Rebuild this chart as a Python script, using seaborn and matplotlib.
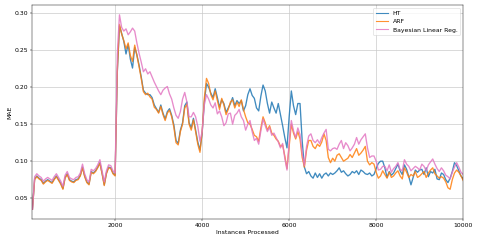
import numpy as np
import pandas as pd
import matplotlib
matplotlib.use("Agg")
import matplotlib.pyplot as plt
import seaborn as sns

# instances processed (every 50 instances)
instances = np.arange(100, 10001, 50)

ht = [
    0.035, 0.076, 0.080, 0.077, 0.075, 0.070, 0.073, 0.075, 0.073, 0.071,
    0.076, 0.080, 0.075, 0.070, 0.063, 0.078, 0.083, 0.075, 0.073, 0.072,
    0.075, 0.076, 0.081, 0.092, 0.080, 0.072, 0.069, 0.086, 0.084, 0.087,
    0.092, 0.098, 0.084, 0.068, 0.084, 0.092, 0.091, 0.084, 0.081, 0.220,
    0.283, 0.273, 0.262, 0.245, 0.258, 0.238, 0.226, 0.254, 0.244, 0.230,
    0.214, 0.196, 0.192, 0.190, 0.190, 0.186, 0.176, 0.171, 0.166, 0.176,
    0.165, 0.157, 0.167, 0.171, 0.162, 0.149, 0.128, 0.124, 0.142, 0.152,
    0.175, 0.180, 0.152, 0.145, 0.158, 0.142, 0.126, 0.115, 0.138, 0.180,
    0.205, 0.200, 0.192, 0.186, 0.198, 0.186, 0.173, 0.183, 0.178, 0.166,
    0.172, 0.178, 0.186, 0.175, 0.182, 0.178, 0.182, 0.168, 0.175, 0.190,
    0.198, 0.189, 0.185, 0.172, 0.168, 0.188, 0.203, 0.195, 0.178, 0.165,
    0.180, 0.172, 0.165, 0.178, 0.163, 0.148, 0.132, 0.118, 0.160, 0.195,
    0.175, 0.163, 0.178, 0.178, 0.127, 0.092, 0.083, 0.086, 0.080, 0.077,
    0.084, 0.078, 0.083, 0.077, 0.082, 0.084, 0.080, 0.084, 0.082, 0.084,
    0.087, 0.091, 0.085, 0.087, 0.083, 0.080, 0.082, 0.086, 0.084, 0.087,
    0.082, 0.088, 0.086, 0.083, 0.082, 0.084, 0.080, 0.082, 0.090, 0.097,
    0.100, 0.100, 0.091, 0.078, 0.086, 0.081, 0.084, 0.090, 0.096, 0.087,
    0.082, 0.095, 0.089, 0.079, 0.068, 0.078, 0.088, 0.085, 0.088, 0.089,
    0.082, 0.091, 0.079, 0.086, 0.084, 0.089, 0.076, 0.075, 0.084, 0.082,
    0.075, 0.071, 0.077, 0.086, 0.098, 0.094, 0.087, 0.080, 0.076,
]

arf = [
    0.035, 0.075, 0.079, 0.076, 0.074, 0.069, 0.072, 0.074, 0.072, 0.070,
    0.075, 0.079, 0.074, 0.069, 0.062, 0.077, 0.082, 0.074, 0.072, 0.071,
    0.074, 0.075, 0.080, 0.091, 0.079, 0.071, 0.068, 0.085, 0.083, 0.086,
    0.091, 0.097, 0.083, 0.067, 0.083, 0.091, 0.090, 0.083, 0.080, 0.222,
    0.285, 0.272, 0.263, 0.252, 0.260, 0.243, 0.235, 0.257, 0.243, 0.228,
    0.212, 0.194, 0.190, 0.192, 0.187, 0.184, 0.173, 0.170, 0.165, 0.174,
    0.163, 0.155, 0.165, 0.169, 0.160, 0.146, 0.125, 0.122, 0.140, 0.150,
    0.172, 0.177, 0.150, 0.142, 0.156, 0.140, 0.123, 0.112, 0.140, 0.185,
    0.212, 0.205, 0.190, 0.183, 0.195, 0.182, 0.170, 0.185, 0.176, 0.163,
    0.170, 0.180, 0.183, 0.172, 0.180, 0.174, 0.183, 0.170, 0.160, 0.152,
    0.150, 0.143, 0.135, 0.133, 0.127, 0.145, 0.160, 0.152, 0.142, 0.148,
    0.138, 0.135, 0.130, 0.127, 0.120, 0.122, 0.107, 0.090, 0.120, 0.150,
    0.138, 0.130, 0.140, 0.130, 0.105, 0.092, 0.115, 0.128, 0.128, 0.120,
    0.117, 0.123, 0.120, 0.126, 0.137, 0.128, 0.105, 0.098, 0.104, 0.100,
    0.108, 0.110, 0.105, 0.100, 0.102, 0.104, 0.109, 0.105, 0.111, 0.117,
    0.108, 0.111, 0.115, 0.120, 0.100, 0.095, 0.098, 0.096, 0.085, 0.077,
    0.080, 0.087, 0.082, 0.077, 0.085, 0.078, 0.080, 0.084, 0.087, 0.080,
    0.076, 0.091, 0.085, 0.078, 0.082, 0.080, 0.086, 0.078, 0.080, 0.083,
    0.086, 0.078, 0.084, 0.088, 0.091, 0.083, 0.080, 0.077, 0.079, 0.077,
    0.072, 0.064, 0.062, 0.075, 0.084, 0.088, 0.085, 0.080, 0.074,
]

blr = [
    0.035, 0.079, 0.083, 0.080, 0.078, 0.073, 0.076, 0.078, 0.076, 0.074,
    0.079, 0.083, 0.078, 0.073, 0.066, 0.081, 0.086, 0.078, 0.076, 0.075,
    0.078, 0.079, 0.084, 0.096, 0.083, 0.075, 0.072, 0.089, 0.087, 0.090,
    0.095, 0.102, 0.087, 0.072, 0.087, 0.095, 0.094, 0.087, 0.084, 0.245,
    0.298, 0.281, 0.276, 0.279, 0.271, 0.275, 0.280, 0.276, 0.260, 0.246,
    0.234, 0.221, 0.225, 0.218, 0.221, 0.214, 0.207, 0.201, 0.195, 0.190,
    0.196, 0.199, 0.201, 0.191, 0.184, 0.172, 0.162, 0.158, 0.167, 0.184,
    0.193, 0.180, 0.160, 0.160, 0.166, 0.160, 0.147, 0.127, 0.140, 0.176,
    0.190, 0.184, 0.176, 0.172, 0.179, 0.164, 0.168, 0.160, 0.148, 0.152,
    0.164, 0.165, 0.150, 0.162, 0.165, 0.170, 0.160, 0.155, 0.142, 0.150,
    0.155, 0.140, 0.128, 0.131, 0.123, 0.141, 0.157, 0.148, 0.140, 0.146,
    0.135, 0.138, 0.132, 0.126, 0.118, 0.124, 0.104, 0.088, 0.125, 0.155,
    0.141, 0.132, 0.145, 0.136, 0.110, 0.094, 0.120, 0.134, 0.137, 0.128,
    0.125, 0.129, 0.124, 0.132, 0.138, 0.143, 0.116, 0.114, 0.117, 0.118,
    0.116, 0.123, 0.128, 0.117, 0.125, 0.121, 0.114, 0.118, 0.123, 0.132,
    0.123, 0.129, 0.133, 0.137, 0.118, 0.105, 0.107, 0.107, 0.100, 0.088,
    0.089, 0.093, 0.093, 0.087, 0.095, 0.085, 0.090, 0.093, 0.098, 0.089,
    0.087, 0.102, 0.096, 0.093, 0.087, 0.090, 0.093, 0.091, 0.088, 0.096,
    0.093, 0.087, 0.095, 0.099, 0.103, 0.096, 0.090, 0.086, 0.091, 0.087,
    0.081, 0.079, 0.076, 0.085, 0.092, 0.098, 0.092, 0.085, 0.082,
]

series_names = ["HT", "ARF", "Bayesian Linear Reg."]
colors = ["tab:blue", "tab:orange", "tab:pink"]

plt.rcParams["font.size"] = 11

fig, ax = plt.subplots(figsize=(11.95, 6.075), dpi=40)
for name, vals, c in zip(series_names, [ht, arf, blr], colors):
    df = pd.DataFrame({"Instances Processed": instances, "MAE": vals})
    sns.lineplot(data=df, x="Instances Processed", y="MAE", color=c, label=name,
                 linewidth=2.4, alpha=0.85, ax=ax)

ax.set_xlim(instances[0] - 10, 10000)
ax.grid(True, color="#c8c8c8", linewidth=1.2)
leg = ax.legend(loc="upper right")
for line in leg.get_lines():
    line.set_linewidth(2.0)
plt.subplots_adjust(left=0.067, right=0.969, bottom=0.099, top=0.979)
plt.savefig("out.png", dpi=40)
